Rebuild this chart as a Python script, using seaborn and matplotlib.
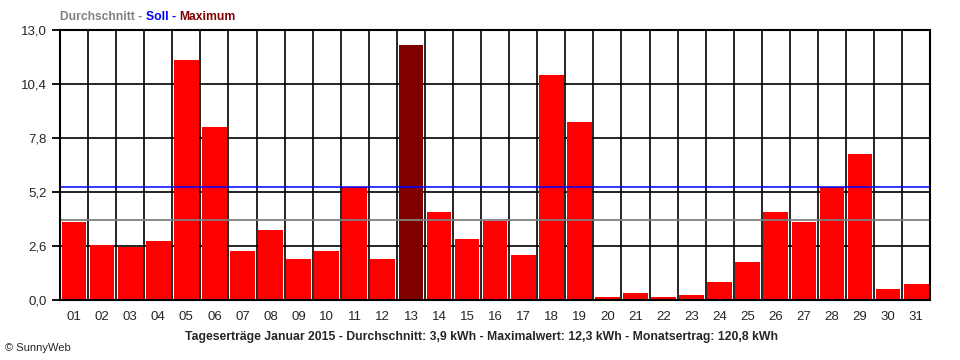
import numpy as np
import pandas as pd
import matplotlib
matplotlib.use('Agg')
import matplotlib.pyplot as plt
import seaborn as sns

# Tageserträge Januar 2015 (kWh)
days = ['%02d' % d for d in range(1, 32)]
yields = [3.76, 2.65, 2.57, 2.84, 11.55, 8.33, 2.36, 3.37, 1.97, 2.36,
          5.43, 1.97, 12.3, 4.24, 2.94, 3.80, 2.17, 10.83, 8.57, 0.16,
          0.34, 0.16, 0.24, 0.87, 1.83, 4.24, 3.76, 5.43, 7.03, 0.53, 0.77]
average = 3.85
target = 5.43
y_ticks = [0.0, 2.6, 5.2, 7.8, 10.4, 13.0]
footer = ('Tageserträge Januar 2015 - Durchschnitt: 3,9 kWh - '
          'Maximalwert: 12,3 kWh - Monatsertrag: 120,8 kWh')

sns.set_style('white')
plt.rcParams['font.family'] = ['Liberation Sans', 'DejaVu Sans']

df = pd.DataFrame({'Tag': days, 'Ertrag': yields})
max_day = df.loc[df['Ertrag'].idxmax(), 'Tag']
palette = {d: ('#800000' if d == max_day else '#FF0000') for d in days}

fig = plt.figure(figsize=(9.6, 3.6), dpi=100)
ax = fig.add_axes([0.0625, 0.1667, 0.9065, 0.75])

sns.barplot(data=df, x='Tag', y='Ertrag', hue='Tag', palette=palette,
            legend=False, width=0.88, linewidth=0, saturation=1, ax=ax,
            zorder=3)

# Durchschnitt / Soll
ax.axhline(average, color='#808080', lw=1.3, zorder=4)
ax.axhline(target, color='#0000FF', lw=1.1, zorder=4)

ax.set_ylim(0, 13)
ax.set_xlim(-0.5, len(days) - 0.5)
ax.set_yticks(y_ticks)
ax.set_yticklabels([f'{v:.1f}'.replace('.', ',') for v in y_ticks])
ax.set_xticks(np.arange(-0.5, len(days), 1), minor=True)

ax.grid(which='minor', axis='x', color='black', lw=1.2, zorder=0)
ax.grid(which='major', axis='y', color='black', lw=1.2, zorder=0)
ax.set_axisbelow(True)

ax.tick_params(axis='x', which='major', length=0, labelsize=9.5, pad=8)
ax.tick_params(axis='x', which='minor', length=5, width=1.3, color='black',
               direction='out')
ax.tick_params(axis='y', length=6, width=1.3, color='black', labelsize=9.5,
               direction='out', left=True)
for s in ax.spines.values():
    s.set_color('black')
    s.set_linewidth(1.5)
    s.set_zorder(5)
ax.set_xlabel('')
ax.set_ylabel('')

# Legende oben
t1 = fig.text(60 / 960, 1 - 17 / 360, 'Durchschnitt - ', color='#808080',
              fontsize=8.7, fontweight='bold', va='center')
t2 = ax.annotate('Soll - ', xy=(1, 0), xycoords=t1, va='bottom',
                 color='#0000FF', fontsize=8.7, fontweight='bold')
ax.annotate('Maximum', xy=(1, 0), xycoords=t2, va='bottom',
            color='#800000', fontsize=8.7, fontweight='bold')

fig.text(481 / 960, 1 - 337 / 360, footer, ha='center', va='center',
         fontsize=8.8, fontweight='bold')
fig.text(5 / 960, 1 - 348 / 360, '© SunnyWeb', fontsize=8, va='center')

fig.savefig('out.png', dpi=100)
